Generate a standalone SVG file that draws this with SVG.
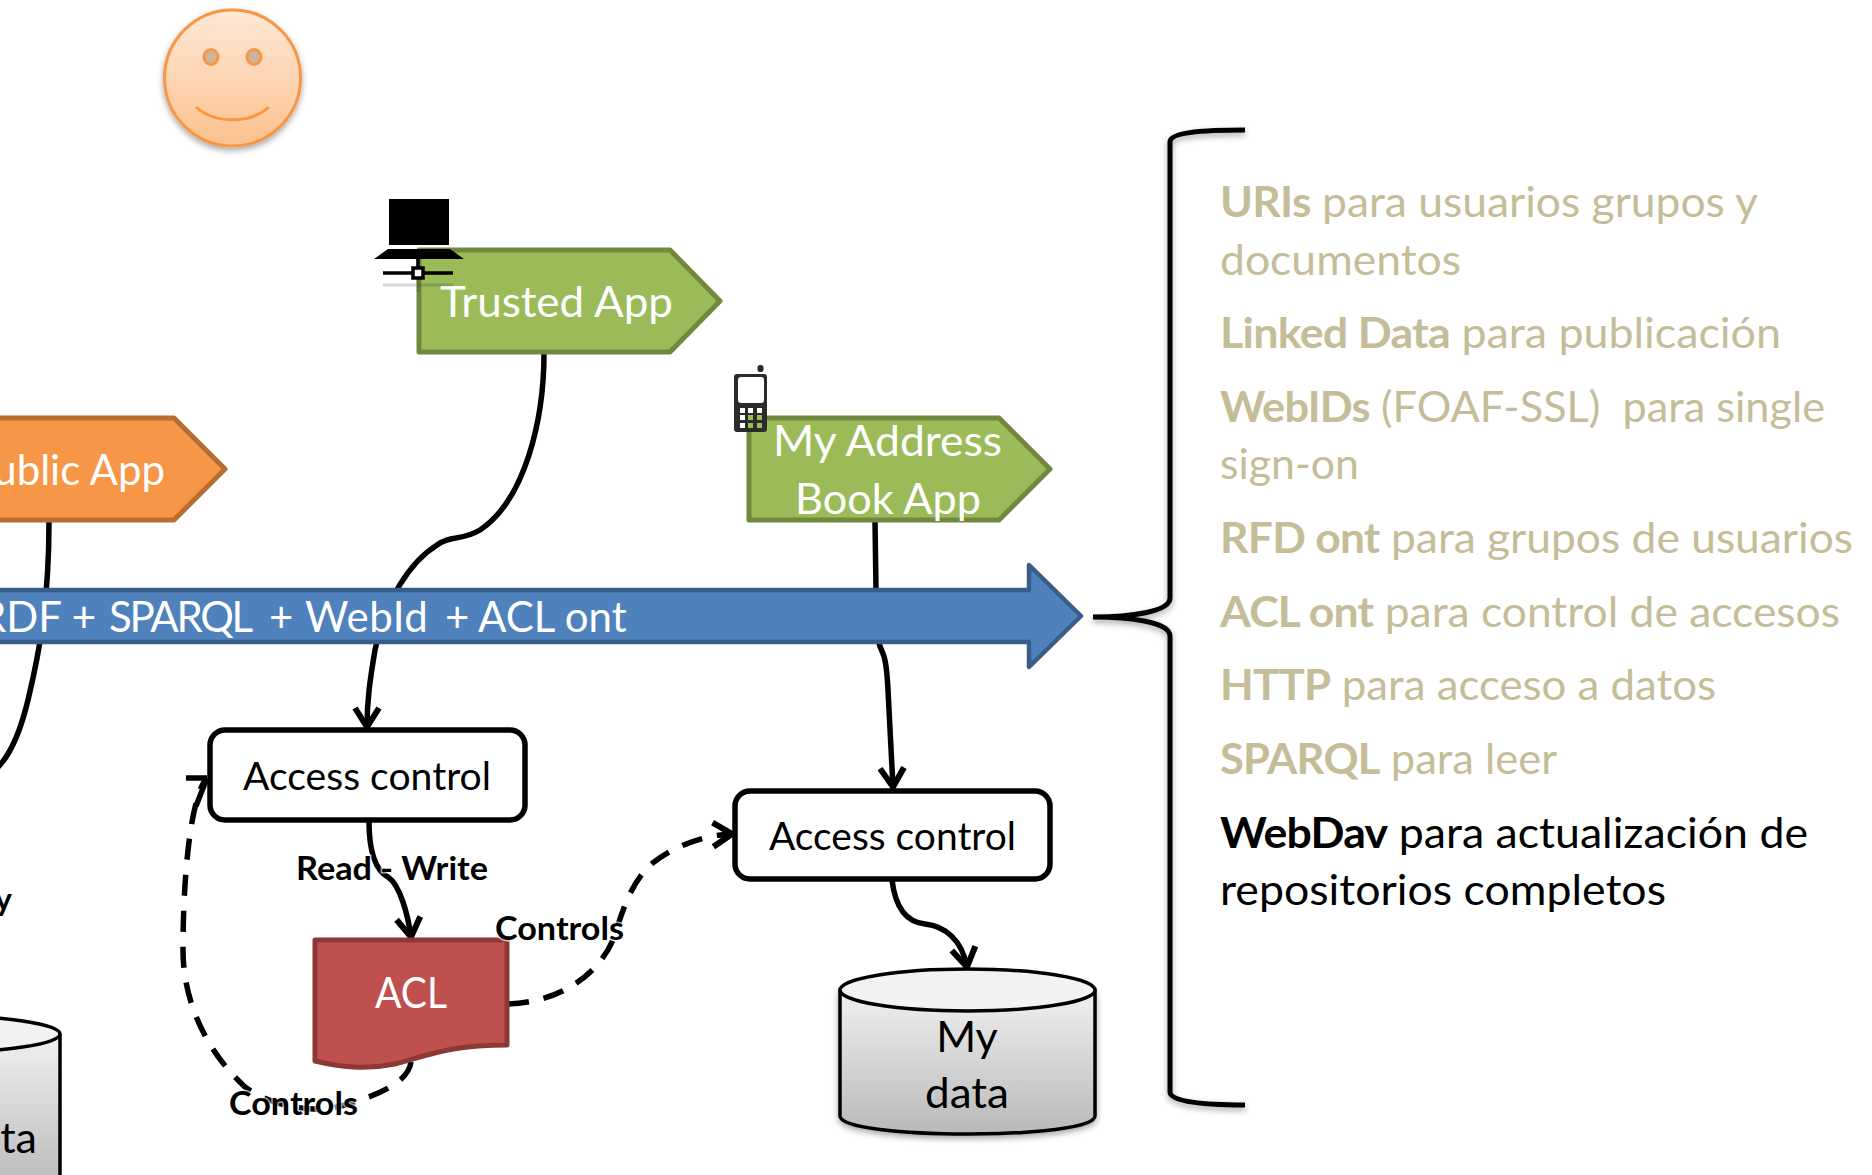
<svg xmlns="http://www.w3.org/2000/svg" width="1872" height="1175" viewBox="0 0 1872 1175">
<style>
text{font-family:Lato,"Liberation Sans",sans-serif}
.w{fill:#fff;font-size:42px}
.k{fill:#000;font-size:38px}
.b{fill:#000;font-size:32px;font-weight:700;paint-order:stroke;stroke:#fff;stroke-opacity:.65;stroke-width:3px}
.t{font-size:42px;fill:#c4bd97}
.t tspan{font-weight:700;letter-spacing:-.7px}
.c{fill:none;stroke:#000;stroke-width:5.5}
.d{stroke-dasharray:21 15}
.cyl{stroke:#000;stroke-width:3.5}
</style>
<defs>
<marker id="v" markerUnits="userSpaceOnUse" markerWidth="30" markerHeight="30" refX="24" refY="15" orient="auto" overflow="visible"><path d="M5,3 L24,15 L5,27" fill="none" stroke="#000" stroke-width="6"/></marker>
<linearGradient id="fg" x1="0" y1="0" x2="0" y2="1"><stop offset="0" stop-color="#fee9d8"/><stop offset="1" stop-color="#fcc08c"/></linearGradient>
<linearGradient id="cg" x1="0" y1="0" x2="0" y2="1"><stop offset="0" stop-color="#f0f0f0"/><stop offset="1" stop-color="#b9b9b9"/></linearGradient>
<filter id="s" x="-20%" y="-20%" width="140%" height="140%"><feDropShadow dx="0" dy="3" stdDeviation="3" flood-color="#000" flood-opacity=".35"/></filter>
</defs>
<g id="connectors">
<path class="c" d="M544,353 C544,420 525,500 480,530 C462,541 450,535 437,545 C410,562 385,600 375,650 C370,680 367,700 367,727" marker-end="url(#v)"/>
<path class="c" d="M49,521 C49,600 40,650 28,700 C22,725 12,755 -5,770"/>
<path class="c" d="M369,821 C369,850 375,870 388,877 C400,885 408,915 411,937" marker-end="url(#v)"/>
<path class="c" d="M875,521 L876,590 L879,643 C882,655 886,650 888,690 L893,787" marker-end="url(#v)"/>
<path class="c" d="M892,880 C895,905 905,922 925,924 C945,926 962,940 967,967" marker-end="url(#v)"/>
<path class="c d" d="M508,1004 C560,1002 600,975 615,935 C625,900 635,880 650,865 C675,845 705,835 732,834" marker-end="url(#v)"/>
<path class="c d" d="M411,1062 C408,1085 370,1097 345,1105 C310,1115 270,1105 245,1087 C205,1050 183,1000 183,950 C183,880 190,800 206,779"/>
<path class="c" d="M186,778 L207,778 M207,778 L196,806"/>
</g>
<g id="face">
<circle cx="232.500" cy="78" r="68" fill="url(#fg)" stroke="#f79646" stroke-width="3" filter="url(#s)"/>
<ellipse cx="211" cy="57" rx="7" ry="7.500" fill="#cbb59c" stroke="#f79646" stroke-width="3"/>
<ellipse cx="254" cy="57" rx="7" ry="7.500" fill="#cbb59c" stroke="#f79646" stroke-width="3"/>
<path d="M196,107 C215,124 250,124 269,107" fill="none" stroke="#f79646" stroke-width="3"/>
</g>
<g id="trusted-app">
<path d="M419,250 H670 L720,301 L670,352 H419 Z" fill="#9bbb59" stroke="#71893f" stroke-width="5" stroke-linejoin="round"/>
<text class="w" x="440" y="317" textLength="233" lengthAdjust="spacingAndGlyphs">Trusted App</text>
</g>
<g id="computer">
<rect x="389" y="199" width="60" height="46"/>
<path d="M388,249 H450 L464,259 H374 Z"/>
<path d="M383,285 H453 M418,275 V292" stroke="#000" stroke-opacity=".15" stroke-width="3" fill="none"/>
<path d="M418,259 V268 M383,273 H453" stroke="#000" stroke-width="3.500" fill="none"/>
<rect x="413" y="268" width="10" height="10" fill="#fff" stroke="#000" stroke-width="3.500"/>
</g>
<g id="public-app">
<path d="M-10,418 H174 L225,469 L174,520 H-10 Z" fill="#f79646" stroke="#b66d31" stroke-width="5" stroke-linejoin="round"/>
<text class="w" x="165" y="485" text-anchor="end">Public App</text>
</g>
<g id="address-app">
<path d="M749,418 H999 L1050,469 L999,520 H749 Z" fill="#9bbb59" stroke="#71893f" stroke-width="5" stroke-linejoin="round"/>
<text class="w" x="773" y="456" textLength="229" lengthAdjust="spacingAndGlyphs">My Address</text>
<text class="w" x="795" y="514" textLength="186" lengthAdjust="spacingAndGlyphs">Book App</text>
</g>
<g id="phone">
<rect x="757.500" y="365" width="6" height="7" rx="2.500" fill="#2b2b2b"/>
<rect x="734" y="374" width="33" height="58" rx="3" fill="#2b2b2b"/>
<rect x="738" y="377" width="26" height="26" rx="3" fill="#fff"/>
<g fill="#fff">
<rect x="740" y="408" width="5" height="5"/><rect x="748" y="408" width="5" height="5"/><rect x="757" y="408" width="5" height="5"/>
<rect x="740" y="415" width="5" height="5"/><rect x="748" y="415" width="5" height="5" fill="#9bbb59"/><rect x="757" y="415" width="5" height="5" fill="#9bbb59"/>
<rect x="740" y="423" width="5" height="5"/><rect x="748" y="423" width="5" height="5" fill="#9bbb59"/><rect x="757" y="423" width="5" height="5" fill="#9bbb59"/>
</g>
</g>
<g id="protocol-arrow">
<path d="M-10,590 H1029 V565 L1081,616 L1029,667 V642 H-10 Z" fill="#4f81bd" stroke="#385d8a" stroke-width="4.500" stroke-linejoin="round"/>
<text class="w" y="632"><tspan x="-20">RDF + </tspan><tspan x="109" letter-spacing="-2.300">SPARQL </tspan><tspan x="269">+ </tspan><tspan x="305" letter-spacing=".5">WebId </tspan><tspan x="445">+ </tspan><tspan x="478">ACL ont</tspan></text>
</g>
<g id="access-control-1">
<rect x="210" y="730" width="315" height="90" rx="15" fill="#fff" stroke="#000" stroke-width="5.500"/>
<text class="k" x="243" y="790" textLength="248" lengthAdjust="spacingAndGlyphs">Access control</text>
</g>
<g id="acl">
<path d="M315,940 H507 V1045 C450,1045 430,1055 395,1064 C365,1070 340,1067 315,1061 Z" fill="#c0504d" stroke="#8c3836" stroke-width="5" stroke-linejoin="round"/>
<text class="w" x="375" y="1008" textLength="72" lengthAdjust="spacingAndGlyphs">ACL</text>
</g>
<g id="access-control-2">
<rect x="735" y="791" width="315" height="88" rx="15" fill="#fff" stroke="#000" stroke-width="5.500"/>
<text class="k" x="769" y="850" textLength="247" lengthAdjust="spacingAndGlyphs">Access control</text>
</g>
<g id="my-data">
<path class="cyl" d="M840,991 V1116 C840,1140 1095,1140 1095,1116 V991 Z" fill="url(#cg)" filter="url(#s)"/>
<ellipse class="cyl" cx="967.500" cy="990" rx="127.500" ry="21" fill="#f2f2f2"/>
<text class="k" x="967" y="1052" text-anchor="middle" style="font-size:43px">My</text>
<text class="k" x="967" y="1108" text-anchor="middle" style="font-size:43px" textLength="84" lengthAdjust="spacingAndGlyphs">data</text>
</g>
<g id="data-left">
<path class="cyl" d="M-100,1036 V1190 H60 V1036 Z" fill="url(#cg)"/>
<ellipse class="cyl" cx="-67.500" cy="1034" rx="127.500" ry="18.500" fill="#f2f2f2"/>
<text class="k" x="37" y="1153" text-anchor="end" style="font-size:43px">data</text>
</g>
<g id="labels">
<text class="b" x="296" y="880" textLength="192" lengthAdjust="spacingAndGlyphs">Read - Write</text>
<text class="b" x="495" y="940" textLength="129" lengthAdjust="spacingAndGlyphs">Controls</text>
<text class="b" x="229" y="1115" textLength="129" lengthAdjust="spacingAndGlyphs">Controls</text>
<text class="b" x="12" y="911" text-anchor="end">y</text>
</g>
<g id="brace">
<path d="M1245,130 C1205,130 1170,132 1170,142 V598 C1170,612 1130,617 1093,617 C1130,617 1170,622 1170,636 V1092 C1170,1102 1205,1105 1245,1105" fill="none" stroke="#000" stroke-width="5" filter="url(#s)"/>
</g>
<g id="list">
<text class="t" x="1220" y="217" textLength="538" lengthAdjust="spacingAndGlyphs"><tspan>URIs</tspan> para usuarios grupos y</text>
<text class="t" x="1220" y="275" textLength="241" lengthAdjust="spacingAndGlyphs">documentos</text>
<text class="t" x="1220" y="348" textLength="561" lengthAdjust="spacingAndGlyphs"><tspan>Linked Data</tspan> para publicación</text>
<text class="t" x="1220" y="422" xml:space="preserve" textLength="605" lengthAdjust="spacingAndGlyphs"><tspan>WebIDs</tspan> (FOAF-SSL)  para single</text>
<text class="t" x="1220" y="479" textLength="139" lengthAdjust="spacingAndGlyphs">sign-on</text>
<text class="t" x="1220" y="553" textLength="633" lengthAdjust="spacingAndGlyphs"><tspan>RFD ont</tspan> para grupos de usuarios</text>
<text class="t" x="1220" y="627" textLength="620" lengthAdjust="spacingAndGlyphs"><tspan>ACL ont</tspan> para control de accesos</text>
<text class="t" x="1220" y="700" textLength="496" lengthAdjust="spacingAndGlyphs"><tspan>HTTP</tspan> para acceso a datos</text>
<text class="t" x="1220" y="774" textLength="337" lengthAdjust="spacingAndGlyphs"><tspan>SPARQL</tspan> para leer</text>
<text class="t" x="1220" y="848" style="fill:#000" textLength="588" lengthAdjust="spacingAndGlyphs"><tspan>WebDav</tspan> para actualización de</text>
<text class="t" x="1220" y="905" style="fill:#000" textLength="446" lengthAdjust="spacingAndGlyphs">repositorios completos</text>
</g>
</svg>
